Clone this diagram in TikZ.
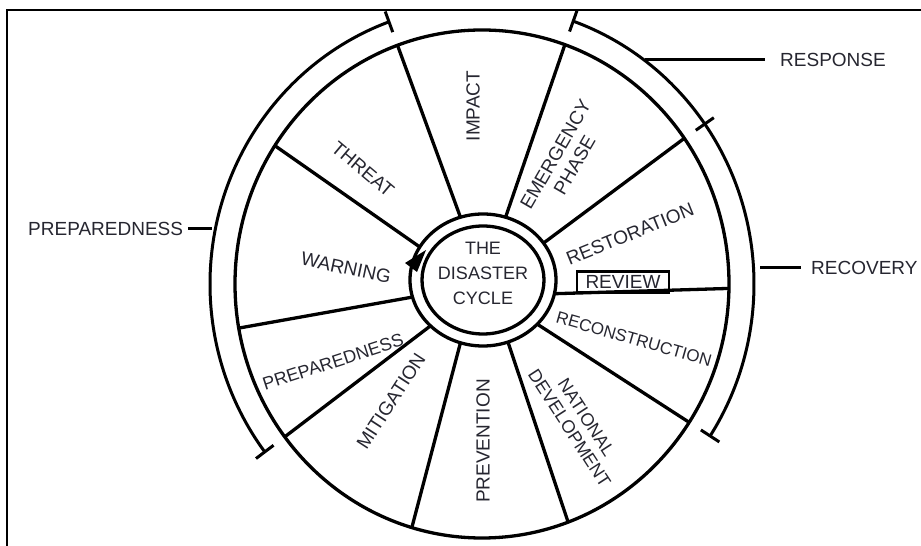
\documentclass[tikz,border=0pt]{standalone}
\usepackage{fontspec}
\setmainfont{Liberation Sans}
\definecolor{ink}{RGB}{38,38,48}
\begin{document}
\begin{tikzpicture}[x=1pt,y=1pt,
  lbl/.style={font=\fontsize{19}{22}\selectfont, text=ink, align=center, inner sep=1pt},
  wheel/.style={line width=3.3pt},
  bracket/.style={line width=3pt}]
  \useasboundingbox (0,0) rectangle (921,546);
  \draw[line width=2.4pt] (7,-5) -- (7,536) -- (930,536);
  \coordinate (hub) at (483,266);
  \coordinate (rim) at (482,262);
  \draw[wheel] (hub) ellipse [x radius=73,y radius=66];
  \draw[wheel] (hub) ellipse [x radius=61,y radius=54];
  \draw[wheel] (rim) ellipse [x radius=247,y radius=254];
  \draw[wheel] ([shift={(hub)}]108:73 and 66) -- ([shift={(rim)}]110:247 and 254);
  \draw[wheel] ([shift={(hub)}]72:73 and 66) -- ([shift={(rim)}]70.4:247 and 254);
  \draw[wheel] ([shift={(hub)}]34:73 and 66) -- ([shift={(rim)}]35:247 and 254);
  \draw[wheel] ([shift={(hub)}]-12:73 and 66) -- ([shift={(rim)}]-1:247 and 254);
  \draw[wheel] ([shift={(hub)}]-42:73 and 66) -- ([shift={(rim)}]-33:247 and 254);
  \draw[wheel] ([shift={(hub)}]-70:73 and 66) -- ([shift={(rim)}]-69.6:247 and 254);
  \draw[wheel] ([shift={(hub)}]-108:73 and 66) -- ([shift={(rim)}]-106.5:247 and 254);
  \draw[wheel] ([shift={(hub)}]-136:73 and 66) -- ([shift={(rim)}]-143:247 and 254);
  \draw[wheel] ([shift={(hub)}]-165:73 and 66) -- ([shift={(rim)}]-170:247 and 254);
  \draw[wheel] ([shift={(hub)}]150:73 and 66) -- ([shift={(rim)}]147:247 and 254);
  \fill (426,296) -- (405,283) -- (417,274) -- cycle;
  % brackets round the wheel
  \draw[bracket] ([shift={(rim)}]110:272 and 279) arc[start angle=110,end angle=217,x radius=272,y radius=279];
  \draw[bracket] ([shift={(rim)}]70.4:272 and 279) arc[start angle=70.4,end angle=-33,x radius=272,y radius=279];
  \draw[bracket] ([shift={(rim)}]110:261 and 268) -- ([shift={(rim)}]110:283 and 290);
  \draw[bracket] ([shift={(rim)}]217:261 and 268) -- ([shift={(rim)}]217:283 and 290);
  \draw[bracket] ([shift={(rim)}]70.4:261 and 268) -- ([shift={(rim)}]70.4:283 and 290);
  \draw[bracket] ([shift={(rim)}]35:261 and 268) -- ([shift={(rim)}]35:283 and 290);
  \draw[bracket] ([shift={(rim)}]-33:261 and 268) -- ([shift={(rim)}]-33:283 and 290);
  % segment labels
  \node[lbl, rotate=-40] (threat) at (363,377) {THREAT};
  \node[lbl, rotate=90] (impact) at (473,440) {IMPACT};
  \node[lbl, rotate=60] (emergency) at (565,386) {EMERGENCY\\PHASE};
  \node[lbl, rotate=22] (restoration) at (630,312) {RESTORATION};
  \node[lbl, draw, line width=2.6pt, minimum width=92, minimum height=21, inner sep=0pt] (review) at (623,264) {REVIEW};
  \node[lbl, font=\fontsize{17}{20}\selectfont, rotate=-16] (reconstruction) at (634,207) {RECONSTRUCTION};
  \node[lbl, font=\fontsize{18}{20}\selectfont, rotate=-57] (national) at (578,123) {NATIONAL\\DEVELOPMENT};
  \node[lbl, rotate=90] (prevention) at (483,105) {PREVENTION};
  \node[lbl, rotate=57] (mitigation) at (391,145) {MITIGATION};
  \node[lbl, font=\fontsize{18}{20}\selectfont, rotate=18] (preparedness) at (333,184) {PREPAREDNESS};
  \node[lbl, rotate=-12] (warning) at (346,278) {WARNING};
  \node[lbl, font=\fontsize{18}{25}\selectfont] (cycle) at (483,273) {THE\\DISASTER\\CYCLE};
  % phase labels
  \node[lbl, anchor=west] (prepLbl) at (27,317) {PREPAREDNESS};
  \coordinate (prepEnd) at (212,317);
  \draw[bracket] ([xshift=4pt]prepLbl.east) -- (prepEnd);
  \node[lbl, anchor=west] (respLbl) at (779,486) {RESPONSE};
  \coordinate (respEnd) at (645,486);
  \draw[bracket] (respEnd) -- ([xshift=-14pt]respLbl.west);
  \node[lbl, anchor=west] (recLbl) at (810,278) {RECOVERY};
  \coordinate (recEnd) at (760,278);
  \draw[bracket] (recEnd) -- ([xshift=-9pt]recLbl.west);
\end{tikzpicture}
\end{document}
